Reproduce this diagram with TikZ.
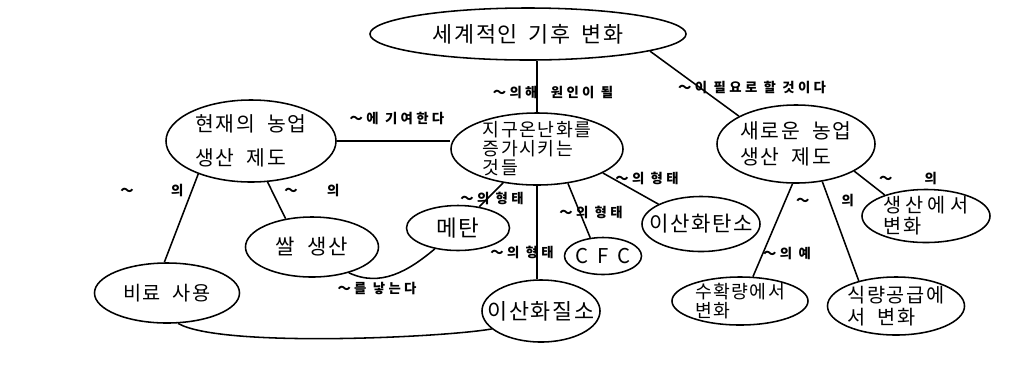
\documentclass[tikz,border=0pt]{standalone}
\usepackage{fontspec}
\usetikzlibrary{shapes.geometric}
\newfontfamily\krfont[LetterSpace=8]{Noto Sans CJK KR}
\newfontfamily\krlabel[LetterSpace=25]{Noto Sans CJK KR}
\newcommand\wave{～}
\newcommand\sz[2]{\fontsize{#1}{#2}\selectfont}

\begin{document}
\begin{tikzpicture}[x=0.025cm,y=-0.025cm,
    concept/.style={draw,ellipse,line width=1.1pt,inner sep=-3cm,align=left,font=\krfont},
    link/.style={line width=1.1pt},
    lbl/.style={inner sep=0pt,font=\krlabel\bfseries\sz{9.5}{11}}]
  \useasboundingbox (0,0) rectangle (1032,371);
  \node[concept,minimum width=7.9cm,minimum height=1.3cm,font=\krfont\sz{15.5}{18}] (climate) at (528,34)
       {세계적인\hspace{0.5em}기후\hspace{0.5em}변화};
  \node[concept,minimum width=4.25cm,minimum height=2.05cm,font=\krfont\sz{14.5}{24}] (current) at (251,141)
       {현재의\hspace{0.6em}농업\\생산\hspace{0.6em}제도};
  \node[concept,minimum width=4.3cm,minimum height=1.8cm,font=\krfont\sz{13}{13.5}] (warming) at (537,149)
       {지구온난화를\\증가시키는\\것들};
  \node[concept,minimum width=3.95cm,minimum height=1.95cm,font=\krfont\sz{14.5}{18}] (newsys) at (796,144)
       {새로운\hspace{0.6em}농업\\생산\hspace{0.6em}제도};
  \node[concept,minimum width=3.625cm,minimum height=1.5cm,font=\krfont\sz{14}{16}] (fert) at (167,293)
       {비료\hspace{0.6em}사용};
  \node[concept,minimum width=3.325cm,minimum height=1.5cm,font=\krfont\sz{15}{17}] (rice) at (312,247)
       {쌀\hspace{0.6em}생산};
  \node[concept,minimum width=2.575cm,minimum height=1.125cm,font=\krfont\sz{16}{18}] (methane) at (458,228)
       {메탄};
  \node[concept,minimum width=2.95cm,minimum height=1.55cm,font=\krfont\sz{15.5}{18}] (nox) at (541,311)
       {이산화질소};
  \node[concept,minimum width=1.925cm,minimum height=0.925cm,font=\krfont\sz{14.5}{16}] (cfc) at (603,256)
       {\addfontfeature{LetterSpace=45}CFC};
  \node[concept,minimum width=2.95cm,minimum height=1.375cm,font=\krfont\sz{15}{17}] (cotwo) at (701,224)
       {이산화탄소};
  \node[concept,minimum width=3.2cm,minimum height=1.325cm,font=\krfont\sz{14}{15}] (prod) at (926,216)
       {\addfontfeature{LetterSpace=20}생산에서\\변화};
  \node[concept,minimum width=3.4cm,minimum height=1.2cm,font=\krfont\sz{13}{14}] (yield) at (740,301)
       {수확량에서\\변화};
  \node[concept,minimum width=3.425cm,minimum height=1.45cm,font=\krfont\sz{14}{15.5}] (food) at (896,306)
       {식량공급에\\서\hspace{0.6em}변화};

  \draw[link] (warming.north) -- (warming.north |- climate.south);
  \draw[link] (current.east) -- (current.east -| warming.west);
  \draw[link] (climate.-8) -- (newsys.154);
  \draw[link] (warming) -- (methane);
  \draw[link] (warming.south) -- (warming.south |- nox.north);
  \draw[link] (warming.-48) -- (cfc.125);
  \draw[link] (warming.-20) -- (cotwo.155);
  \draw[link] (current.212) -- (fert.95);
  \draw[link] (current.-68) -- (rice.133);
  \draw[link] (rice.-35) to[out=-25,in=220] (methane.222);
  \draw[link] (fert.-70) to[out=-30,in=190,looseness=0.4] (nox.200);
  \draw[link] (newsys.-25) -- (prod.153);
  \draw[link] (newsys.-95) -- (yield.62);
  \draw[link] (newsys.-55) -- (food.146);

  \node[lbl] (causedby) at (553,92) {\wave 의해\hspace{1em}원인이 될};
  \node[lbl] (willneed) at (752,87) {\wave 이\hspace{0.5em}필요로 할 것이다};
  \node[lbl] (contrib) at (397,118) {\wave 에 기여한다};
  \node[lbl] (offert) at (152,190) {\wave\hspace{2.8em}의};
  \node[lbl] (ofrice) at (312,190) {\wave\hspace{2.2em}의};
  \node[lbl] (formmeth) at (492,198) {\wave 의 형태};
  \node[lbl] (formcfc) at (591,212) {\wave 의 형태};
  \node[lbl] (formco) at (647,178) {\wave 의 형태};
  \node[lbl] (formno) at (522,252) {\wave 의 형태};
  \node[lbl] (yields) at (377,288) {\wave 를 낳는다};
  \node[lbl] (ofprod) at (908,178) {\wave\hspace{2.4em}의};
  \node[lbl] (offood) at (825,200) {\wave\hspace{2.4em}의};
  \node[lbl] (example) at (787,253) {\wave 의 예};
\end{tikzpicture}
\end{document}
